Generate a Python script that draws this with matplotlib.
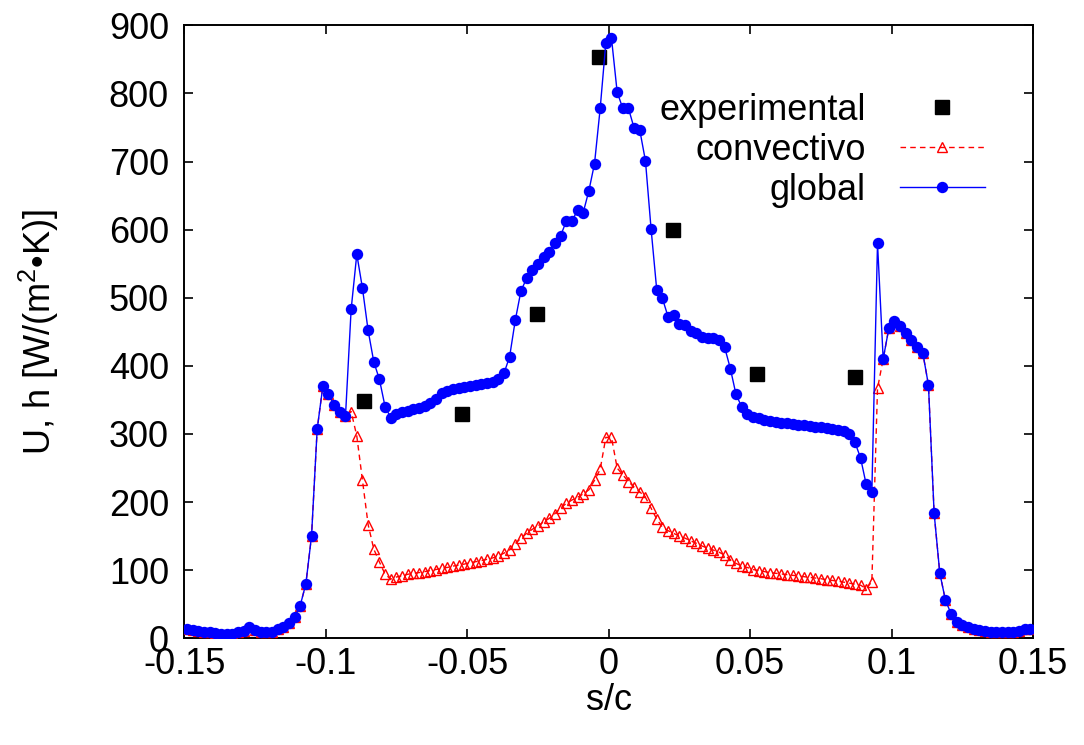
import matplotlib
matplotlib.use("Agg")
import matplotlib.pyplot as plt
from matplotlib.lines import Line2D

plt.rcParams['font.family'] = ['Liberation Sans', 'DejaVu Sans']
plt.rcParams['mathtext.fontset'] = 'custom'
plt.rcParams['mathtext.rm'] = 'Liberation Sans'
plt.rcParams['mathtext.it'] = 'Liberation Sans'

# ---------------- data ----------------
s_c = [-0.149, -0.147, -0.145, -0.143, -0.141, -0.139, -0.137, -0.135, -0.133, -0.131,
       -0.129, -0.127, -0.125, -0.123, -0.121, -0.119, -0.117, -0.115, -0.113, -0.111,
       -0.109, -0.107, -0.105, -0.103, -0.101, -0.099, -0.097, -0.095, -0.093, -0.091,
       -0.089, -0.087, -0.085, -0.083, -0.081, -0.079, -0.077, -0.075, -0.073, -0.071,
       -0.069, -0.067, -0.065, -0.063, -0.061, -0.059, -0.057, -0.055, -0.053, -0.051,
       -0.049, -0.047, -0.045, -0.043, -0.041, -0.039, -0.037, -0.035, -0.033, -0.031,
       -0.029, -0.027, -0.025, -0.023, -0.021, -0.019, -0.017, -0.015, -0.013, -0.011,
       -0.009, -0.007, -0.005, -0.003, -0.001,
       0.001, 0.003, 0.005, 0.007, 0.009, 0.011, 0.013, 0.015, 0.017, 0.019,
       0.021, 0.023, 0.025, 0.027, 0.029, 0.031, 0.033, 0.035, 0.037, 0.039,
       0.041, 0.043, 0.045, 0.047, 0.049, 0.051, 0.053, 0.055, 0.057, 0.059,
       0.061, 0.063, 0.065, 0.067, 0.069, 0.071, 0.073, 0.075, 0.077, 0.079,
       0.081, 0.083, 0.085, 0.087, 0.089, 0.091, 0.093, 0.095, 0.097, 0.099,
       0.101, 0.103, 0.105, 0.107, 0.109, 0.111, 0.113, 0.115, 0.117, 0.119,
       0.121, 0.123, 0.125, 0.127, 0.129, 0.131, 0.133, 0.135, 0.137, 0.139,
       0.141, 0.143, 0.145, 0.147, 0.149]

global_U = [13, 12, 11, 10, 9, 8, 7, 7, 7, 9,
            11, 16, 12, 10, 9, 10, 13, 17, 23, 31,
            48, 80, 150, 307, 370, 358, 343, 332, 326, 483,
            564, 514, 452, 406, 380, 340, 324, 330, 332, 334,
            336, 338, 341, 346, 352, 360, 363.5, 365.5, 367, 368.5,
            370.5, 372, 373, 374.5, 376, 381, 389, 413.5, 467, 510,
            528.5, 541, 549, 560, 567.5, 581, 591, 612, 612, 629,
            625, 657, 697, 778, 874.5,
            881, 802, 778, 778, 749, 746, 701, 600.5, 511, 499,
            472, 474.7, 461.5, 460, 451.6, 447.8, 442, 440.5, 440.5, 438,
            427, 396, 358, 340, 330, 325, 323, 320.5, 319, 317.6,
            316.6, 315.6, 314.6, 313.6, 312.7, 311.7, 310.7, 309.8, 308.8, 307.8,
            306, 304, 300, 288, 265, 226, 215, 580, 410, 455,
            466, 458.5, 448, 438, 428, 419, 372, 184, 96, 56,
            36, 24, 19.5, 16, 14, 12, 11, 10, 9, 9,
            9, 10, 11, 13, 14]

convectivo_h = [13, 12, 11, 10, 9, 8, 7, 7, 7, 9,
                11, 16, 12, 10, 9, 10, 13, 17, 23, 31,
                48, 80, 150, 307, 370, 358, 343, 332, 326, 333,
                297, 232, 167, 131, 112, 94, 87, 90, 92, 94,
                95.5, 96.5, 98, 99.5, 101, 103, 104, 106, 107.5, 109,
                111, 112.5, 114, 116, 118, 121, 125, 130, 139, 147,
                154, 160, 165, 171, 176, 183, 191, 198, 203, 207,
                212, 218, 232, 248, 295,
                295, 250, 240, 230, 222, 215, 207, 191, 175, 163,
                158, 154, 150, 147, 143, 139.5, 135.5, 132.5, 129.5, 126.5,
                122, 115, 110, 106, 104, 101, 99.5, 98, 96.5, 95.5,
                94.5, 93.5, 92.5, 91.5, 90.5, 89.5, 88.5, 87.5, 86, 85,
                84, 82.5, 81, 79.5, 78, 73, 83, 367, 410, 455,
                466, 458.5, 448, 438, 428, 419, 372, 184, 96, 56,
                36, 24, 19.5, 16, 14, 12, 11, 10, 9, 9,
                9, 10, 11, 13, 14]

s_exp = [-0.0864, -0.0517, -0.0254, -0.0033, 0.0228, 0.0523, 0.0871]
U_exp = [349, 329, 476, 853, 600, 388, 383]

x_ticks = [-0.15, -0.1, -0.05, 0, 0.05, 0.1, 0.15]
x_ticklabels = ['-0.15', '-0.1', '-0.05', '0', '0.05', '0.1', '0.15']
y_ticks = [0, 100, 200, 300, 400, 500, 600, 700, 800, 900]

FS = 26

fig = plt.figure(figsize=(10.84, 7.45), dpi=100)
ax = fig.add_axes([0.1699, 0.1432, 0.9531 - 0.1699, 0.9660 - 0.1432])

ax.plot(s_exp, U_exp, linestyle='none', marker='s', markersize=10.5,
        color='black', label='experimental', zorder=2)
ax.plot(s_c, convectivo_h, color='#ff0000', linewidth=1.0, dashes=(4, 3),
        marker='^', markersize=7.5, markerfacecolor='none',
        markeredgecolor='#ff0000', markeredgewidth=1.0,
        label='convectivo', zorder=3)
ax.plot(s_c, global_U, color='#0000ff', linewidth=1.0,
        marker='o', markersize=8.2, markeredgewidth=0,
        label='global', zorder=4)

ax.set_xlim(-0.15, 0.15)
ax.set_ylim(0, 900)
ax.set_xticks(x_ticks)
ax.set_xticklabels(x_ticklabels)
ax.set_yticks(y_ticks)
ax.tick_params(direction='in', length=6.5, width=1.2, top=True, right=True,
               labelsize=FS)
ax.tick_params(axis='x', pad=6)
ax.tick_params(axis='y', pad=11)
for sp in ax.spines.values():
    sp.set_linewidth(1.4)

ax.set_xlabel('s/c', fontsize=FS, labelpad=1)
ax.set_ylabel('U, h [W/(m$^{2}$\u2022K)]', fontsize=FS, labelpad=34)

h_exp = Line2D([], [], linestyle='none', marker='s', markersize=10.5, color='black')
h_conv = Line2D([], [], color='#ff0000', linewidth=1.0, dashes=(4, 3),
                marker='^', markersize=7.5, markerfacecolor='none',
                markeredgecolor='#ff0000', markeredgewidth=1.0)
h_glob = Line2D([], [], color='#0000ff', linewidth=1.0, marker='o',
                markersize=8.2, markeredgewidth=0)
leg = ax.legend([h_exp, h_conv, h_glob], ['experimental', 'convectivo', 'global'],
                loc='upper right', bbox_to_anchor=(0.943, 0.89),
                frameon=False, markerfirst=False, fontsize=FS,
                handlelength=2.35, handletextpad=0.95, labelspacing=0.14,
                borderpad=0.0, borderaxespad=0.0, numpoints=1)

fig.savefig('out.png', dpi=100)
